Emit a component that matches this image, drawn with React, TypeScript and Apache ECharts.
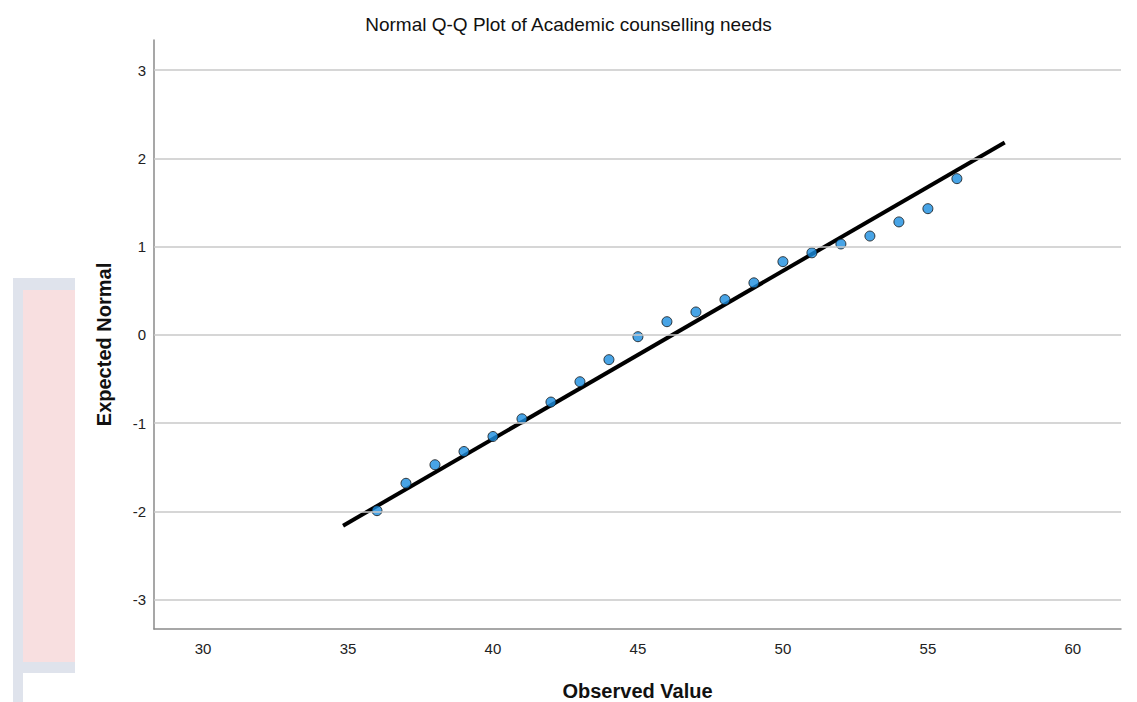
import React, { useEffect, useRef } from "react";
import * as echarts from "echarts";

const observed = [36, 37, 38, 39, 40, 41, 42, 43, 44, 45, 46, 47, 48, 49, 50, 51, 52, 53, 54, 55, 56];
const expected = [-1.99, -1.68, -1.47, -1.32, -1.15, -0.95, -0.76, -0.53, -0.28, -0.02, 0.15, 0.26, 0.4, 0.59, 0.83, 0.93, 1.03, 1.12, 1.28, 1.43, 1.77];
const lineX = [34.83, 57.65];
const lineY = [-2.16, 2.18];
const xTicks = [30, 35, 40, 45, 50, 55, 60];
const yTicks = [-3, -2, -1, 0, 1, 2, 3];

export default function App() {
  const ref = useRef<HTMLDivElement>(null);
  useEffect(() => {
    if (!ref.current) return;
    const chart = echarts.init(ref.current, null, { renderer: "svg" });
    const font = "'Liberation Sans', Arial, sans-serif";
    chart.setOption({
      animation: false,
      backgroundColor: "#ffffff",
      title: {
        text: "Normal Q-Q Plot of Academic counselling needs",
        left: "center",
        top: 10,
        textStyle: { fontFamily: font, fontSize: 19, fontWeight: "normal", color: "#111" },
      },
      graphic: [
        { type: "rect", shape: { x: 13, y: 278, width: 62, height: 424 }, style: { fill: "#dfe3ec" }, z: 0 },
        { type: "rect", shape: { x: 23, y: 290, width: 52, height: 372 }, style: { fill: "#f8dfe0" }, z: 0 },
        { type: "rect", shape: { x: 23, y: 673, width: 52, height: 29 }, style: { fill: "#ffffff" }, z: 0 },
      ],
      grid: { left: 154, right: 16, top: 40, bottom: 73, containLabel: false, outerBoundsMode: "none" },
      xAxis: {
        type: "value",
        min: 28.31,
        max: 61.66,
        name: "Observed Value",
        nameLocation: "middle",
        nameGap: 52,
        nameTextStyle: { fontFamily: font, fontSize: 20, fontWeight: "bold", color: "#111" },
        axisLine: { show: true, onZero: false, lineStyle: { color: "#8a8a8a", width: 1.5 } },
        axisTick: { show: false },
        splitLine: { show: false },
        axisLabel: { customValues: xTicks, fontFamily: font, fontSize: 15, color: "#222", margin: 12 },
      },
      yAxis: {
        type: "value",
        min: -3.33,
        max: 3.34,
        name: "Expected Normal",
        nameLocation: "middle",
        nameGap: 40,
        nameRotate: 90,
        nameTextStyle: { fontFamily: font, fontSize: 20, fontWeight: "bold", color: "#111", padding: [0, 20, 0, 0] },
        axisLine: { show: true, onZero: false, lineStyle: { color: "#8a8a8a", width: 1.5 } },
        axisTick: { show: false },
        splitLine: { show: false },
        axisLabel: { customValues: yTicks, fontFamily: font, fontSize: 15, color: "#222", margin: 8 },
      },
      series: [
        {
          type: "line",
          data: [],
          z: 1,
          silent: true,
          markLine: {
            silent: true,
            symbol: "none",
            label: { show: false },
            lineStyle: { color: "#c9c9c9", width: 1.5, type: "solid" },
            data: yTicks.map((v) => ({ yAxis: v })),
          },
        },
        {
          type: "line",
          data: lineX.map((x, i) => [x, lineY[i]]),
          showSymbol: false,
          symbol: "none",
          z: 3,
          lineStyle: { color: "#000", width: 4 },
        },
        {
          type: "scatter",
          data: observed.map((x, i) => [x, expected[i]]),
          symbol: "circle",
          symbolSize: 10,
          z: 4,
          itemStyle: { color: "#1a8de0", borderColor: "#111", borderWidth: 1 },
        },
      ],
    });
    return () => chart.dispose();
  }, []);
  return (
    <div
      ref={ref}
      style={{ position: "absolute", left: 0, top: 0, width: 1137, height: 702 }}
    />
  );
}
